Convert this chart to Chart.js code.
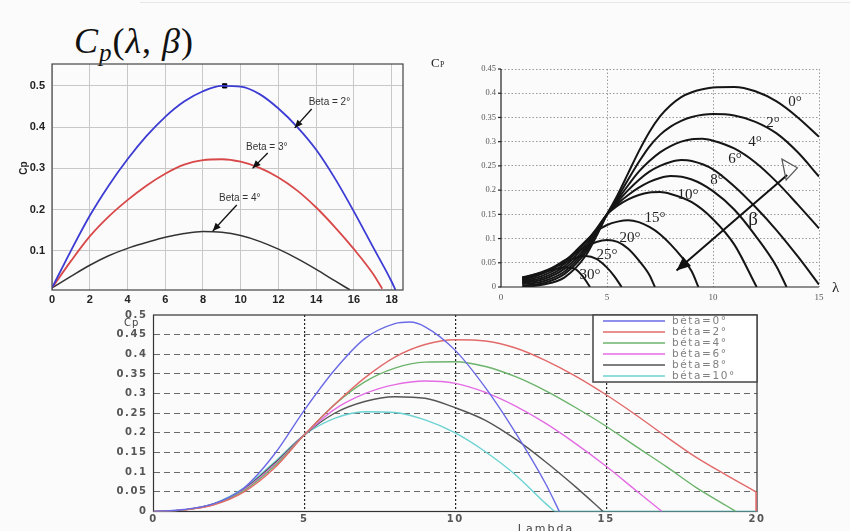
<!DOCTYPE html>
<html>
<head>
<meta charset="utf-8">
<script src="https://cdn.jsdelivr.net/npm/chart.js@4.4.1/dist/chart.umd.min.js"></script>
<style>
  body { margin:0; width:850px; height:531px; overflow:hidden; background:#fbfbfb; position:relative; }
  canvas { position:absolute; }
  #title { position:absolute; left:74px; top:20px; font:36px "Liberation Serif", serif; color:#111; white-space:nowrap; letter-spacing:1px; }
  #title sub { font-size:25px; vertical-align:-8px; }
  #topline { position:absolute; left:140px; top:2px; width:710px; height:1px; background:#e6e6e6; }
</style>
</head>
<body>
<div id="topline"></div>
<div id="title"><i>C</i><sub><i>p</i></sub>(<i>λ</i>, <i>β</i>)</div>
<canvas id="c1" width="420" height="310" style="left:0;top:0"></canvas>
<canvas id="c2" width="430" height="270" style="left:420px;top:40px"></canvas>
<canvas id="c3" width="850" height="231" style="left:0;top:300px"></canvas>
<script>
// ---- top left: Cp(lambda) for Beta = 2, 3, 4 deg
const tlTicksX = [0, 2, 4, 6, 8, 10, 12, 14, 16, 18];
const tlTicksY = [0.1, 0.2, 0.3, 0.4, 0.5];
const tlLam2 = [0, 1, 2, 3, 4, 5, 6, 7, 8, 9, 10, 11, 12, 13, 14, 15, 16, 17, 18, 18.2];
const tlCp2  = [0.01, 0.1, 0.185, 0.258, 0.322, 0.378, 0.425, 0.462, 0.487, 0.5, 0.498, 0.48, 0.445, 0.4, 0.345, 0.275, 0.195, 0.11, 0.025, 0.005];
const tlLam3 = [0, 1, 2, 3, 4, 5, 6, 7, 8, 9, 10, 11, 12, 13, 14, 15, 16, 17, 17.5];
const tlCp3  = [0.01, 0.075, 0.135, 0.183, 0.223, 0.258, 0.287, 0.309, 0.32, 0.322, 0.316, 0.301, 0.278, 0.246, 0.205, 0.157, 0.104, 0.045, 0.008];
const tlLam4 = [0, 1, 2, 3, 4, 5, 6, 7, 8, 9, 10, 11, 12, 13, 14, 15, 15.8];
const tlCp4  = [0.01, 0.038, 0.065, 0.088, 0.106, 0.12, 0.133, 0.142, 0.147, 0.145, 0.137, 0.123, 0.104, 0.081, 0.055, 0.027, 0.005];
const tlMarkLam = [9.15];
const tlMarkCp = [0.5];
const tlNotes = ['Beta = 2°', 'Beta = 3°', 'Beta = 4°'];

// ---- top right: Cp(lambda) for several pitch angles
const trTicksX = [0, 5, 10, 15];
const trTicksY = [0, 0.05, 0.1, 0.15, 0.2, 0.25, 0.3, 0.35, 0.4, 0.45];
const trNames = ['0°', '2°', '4°', '6°', '8°', '10°', '15°', '20°', '25°', '30°'];
const trLam0 = [1, 2, 3, 4, 4.5, 5, 5.5, 6, 6.5, 7, 7.5, 8, 8.5, 9, 9.5, 10, 11, 12, 13, 14, 15];
const trCp0  = [0, 0.005, 0.02, 0.065, 0.105, 0.15, 0.19, 0.235, 0.28, 0.32, 0.352, 0.375, 0.392, 0.402, 0.408, 0.412, 0.413, 0.404, 0.383, 0.35, 0.31];
const trLam2 = [1, 2, 3, 4, 4.5, 5, 5.5, 6, 6.5, 7, 7.5, 8, 8.5, 9, 10, 11, 12, 13, 14, 15];
const trCp2  = [0.003, 0.008, 0.027, 0.072, 0.108, 0.15, 0.185, 0.222, 0.258, 0.29, 0.314, 0.331, 0.343, 0.351, 0.357, 0.354, 0.341, 0.317, 0.278, 0.228];
const trLam4 = [1, 2, 3, 4, 4.5, 5, 5.5, 6, 6.5, 7, 7.5, 8, 8.5, 9, 9.5, 10, 11, 12, 13, 14, 15];
const trCp4  = [0.006, 0.012, 0.032, 0.077, 0.11, 0.15, 0.18, 0.21, 0.238, 0.26, 0.278, 0.291, 0.3, 0.305, 0.306, 0.302, 0.286, 0.257, 0.217, 0.17, 0.121];
const trLam6 = [1, 2, 3, 4, 4.5, 5, 5.5, 6, 6.5, 7, 7.5, 8, 8.5, 9, 10, 11, 12, 13, 14, 15];
const trCp6  = [0.008, 0.016, 0.038, 0.082, 0.113, 0.15, 0.176, 0.2, 0.221, 0.238, 0.25, 0.258, 0.262, 0.26, 0.243, 0.208, 0.165, 0.117, 0.063, 0.005];
const trLam8 = [1, 2, 3, 4, 4.5, 5, 5.5, 6, 6.5, 7, 7.5, 8, 9, 10, 11, 12, 13, 13.47];
const trCp8  = [0.01, 0.02, 0.043, 0.088, 0.117, 0.15, 0.172, 0.19, 0.205, 0.217, 0.225, 0.229, 0.222, 0.198, 0.16, 0.106, 0.042, 0];
const trLam10 = [1, 2, 3, 4, 4.5, 5, 5.5, 6, 6.5, 7, 7.5, 8, 9, 10, 11, 12.06];
const trCp10  = [0.012, 0.024, 0.048, 0.093, 0.12, 0.15, 0.168, 0.181, 0.19, 0.195, 0.196, 0.192, 0.175, 0.14, 0.088, 0];
const trLam15 = [1, 2, 3, 4, 4.5, 5, 5.5, 6, 6.5, 7, 7.5, 8, 8.5, 9, 9.31];
const trCp15  = [0.014, 0.028, 0.053, 0.095, 0.115, 0.128, 0.135, 0.138, 0.134, 0.124, 0.109, 0.088, 0.063, 0.032, 0];
const trLam20 = [1, 2, 3, 4, 4.5, 5, 5.5, 6, 6.5, 7, 7.26];
const trCp20  = [0.016, 0.03, 0.055, 0.083, 0.093, 0.097, 0.093, 0.079, 0.055, 0.025, 0];
const trLam25 = [1, 2, 3, 3.5, 4, 4.5, 5, 5.35, 5.69];
const trCp25  = [0.018, 0.032, 0.05, 0.06, 0.064, 0.058, 0.04, 0.022, 0];
const trLam30 = [1, 2, 2.5, 3, 3.4, 3.8, 4.2];
const trCp30  = [0.02, 0.03, 0.036, 0.04, 0.039, 0.025, 0];

// ---- bottom: Cp(Lambda) for beta = 0..10 deg
const btTicksX = [0, 5, 10, 15, 20];
const btTicksY = [0, 0.05, 0.1, 0.15, 0.2, 0.25, 0.3, 0.35, 0.4, 0.45, 0.5];
const btNames = ['béta=0°', 'béta=2°', 'béta=4°', 'béta=6°', 'béta=8°', 'béta=10°'];
const btLam0 = [0, 1, 2, 3, 4, 5, 6, 7, 8, 8.5, 9, 10, 11, 12, 13, 13.45];
const btCp0  = [0, 0.005, 0.02, 0.06, 0.145, 0.258, 0.36, 0.44, 0.478, 0.482, 0.47, 0.41, 0.315, 0.2, 0.07, 0];
const btLam2 = [0, 1, 2, 3, 4, 5, 6, 7, 8, 9, 10, 11, 12, 13, 14, 15, 16, 17, 18, 19, 19.97];
const btCp2  = [0, 0.004, 0.017, 0.05, 0.11, 0.195, 0.272, 0.34, 0.393, 0.425, 0.437, 0.434, 0.416, 0.384, 0.344, 0.297, 0.245, 0.19, 0.137, 0.092, 0.05];
const btDropLam = [19.97, 19.97];
const btDropCp = [0.05, 0];
const btLam4 = [0, 1, 2, 3, 4, 5, 6, 7, 8, 9, 10, 11, 12, 13, 14, 15, 16, 17, 18, 19, 19.3];
const btCp4  = [0, 0.004, 0.018, 0.053, 0.115, 0.195, 0.272, 0.33, 0.365, 0.38, 0.381, 0.369, 0.343, 0.307, 0.264, 0.217, 0.165, 0.114, 0.06, 0.014, 0];
const btLam6 = [0, 1, 2, 3, 4, 5, 6, 7, 8, 9, 10, 11, 12, 13, 14, 15, 16, 16.85];
const btCp6  = [0, 0.004, 0.018, 0.055, 0.118, 0.195, 0.26, 0.3, 0.323, 0.332, 0.326, 0.303, 0.268, 0.224, 0.172, 0.115, 0.053, 0];
const btLam8 = [0, 1, 2, 3, 4, 5, 6, 7, 8, 9, 10, 11, 12, 13, 14, 14.9];
const btCp8  = [0, 0.004, 0.019, 0.057, 0.122, 0.195, 0.25, 0.28, 0.292, 0.288, 0.264, 0.232, 0.184, 0.126, 0.062, 0];
const btLam10 = [0, 1, 2, 3, 4, 5, 6, 7, 8, 9, 10, 11, 12, 13, 13.3];
const btCp10  = [0, 0.004, 0.02, 0.06, 0.125, 0.195, 0.237, 0.254, 0.252, 0.233, 0.2, 0.152, 0.093, 0.02, 0];
const btTailLam = [13.3, 20];
const btTailCp = [0, 0];

const pts = (xs, ys) => xs.map((x, i) => ({ x: x, y: ys[i] }));
const fixTicks = arr => s => { s.ticks = arr.map(v => ({ value: v })); };

function arrowHead(ctx, x1, y1, x2, y2, len, wid) {
  const a = Math.atan2(y2 - y1, x2 - x1);
  ctx.beginPath();
  ctx.moveTo(x2, y2);
  ctx.lineTo(x2 - len * Math.cos(a) + wid * Math.sin(a), y2 - len * Math.sin(a) - wid * Math.cos(a));
  ctx.lineTo(x2 - len * Math.cos(a) - wid * Math.sin(a), y2 - len * Math.sin(a) + wid * Math.cos(a));
  ctx.closePath();
  ctx.fill();
}

// ---------- chart 1
const tlDeco = {
  id: 'tlDeco',
  afterDraw(chart) {
    const { ctx, chartArea: a, scales: { x, y } } = chart;
    ctx.save();
    ctx.strokeStyle = '#444';
    ctx.lineWidth = 1.2;
    ctx.strokeRect(a.left, a.top, a.right - a.left, a.bottom - a.top);
    ctx.fillStyle = '#222';
    ctx.font = 'bold 10px "Liberation Sans", Arial';
    ctx.translate(24, 168);
    ctx.rotate(-Math.PI / 2);
    ctx.textAlign = 'center';
    ctx.textBaseline = 'middle';
    ctx.fillText('Cp', 0, 0);
    ctx.restore();

    const notes = [
      { t: [14.7, 0.46], a: [13.76, 0.444], b: [12.86, 0.398] },
      { t: [11.38, 0.352], a: [11.43, 0.337], b: [10.63, 0.3] },
      { t: [9.95, 0.228], a: [9.79, 0.211], b: [8.52, 0.148] }
    ];
    ctx.save();
    ctx.font = '10px "Liberation Sans", Arial';
    ctx.strokeStyle = '#111';
    ctx.lineWidth = 1.3;
    ctx.textAlign = 'center';
    ctx.textBaseline = 'middle';
    notes.forEach((n, i) => {
      ctx.fillStyle = '#333';
      ctx.fillText(tlNotes[i], x.getPixelForValue(n.t[0]), y.getPixelForValue(n.t[1]));
      const x1 = x.getPixelForValue(n.a[0]), y1 = y.getPixelForValue(n.a[1]);
      const x2 = x.getPixelForValue(n.b[0]), y2 = y.getPixelForValue(n.b[1]);
      ctx.beginPath(); ctx.moveTo(x1, y1); ctx.lineTo(x2, y2); ctx.stroke();
      ctx.fillStyle = '#111';
      arrowHead(ctx, x1, y1, x2, y2, 8, 3.5);
    });
    ctx.restore();
  }
};

new Chart(document.getElementById('c1'), {
  type: 'line',
  data: {
    datasets: [
      { data: pts(tlLam2, tlCp2), borderColor: '#3c3cd4', borderWidth: 1.8 },
      { data: pts(tlLam3, tlCp3), borderColor: '#d84848', borderWidth: 1.8 },
      { data: pts(tlLam4, tlCp4), borderColor: '#333333', borderWidth: 1.5 },
      { data: pts(tlMarkLam, tlMarkCp), showLine: false, pointStyle: 'rect', pointRadius: 3,
        pointBackgroundColor: '#000', pointBorderColor: '#000' }
    ]
  },
  options: {
    responsive: false, animation: false, events: [],
    layout: { padding: { top: 64, right: 17, left: 0, bottom: 0 } },
    elements: { point: { radius: 0 }, line: { cubicInterpolationMode: 'monotone', fill: false } },
    scales: {
      x: {
        type: 'linear', min: 0, max: 18.6,
        afterFit: s => { s.height = 20; },
        afterBuildTicks: fixTicks(tlTicksX),
        ticks: { padding: 3, color: '#222', font: { family: '"Liberation Sans", Arial', size: 11, weight: 'bold' }, callback: v => String(v) },
        grid: { color: '#c8c8c8', drawTicks: false },
        border: { display: false }
      },
      y: {
        type: 'linear', min: 0.005, max: 0.553,
        afterFit: s => { s.width = 52; },
        afterBuildTicks: fixTicks(tlTicksY),
        ticks: { padding: 7, color: '#222', font: { family: '"Liberation Sans", Arial', size: 11, weight: 'bold' }, callback: v => String(v) },
        grid: { color: '#c8c8c8', drawTicks: false },
        border: { display: false }
      }
    },
    plugins: { legend: { display: false }, tooltip: { enabled: false } }
  },
  plugins: [tlDeco]
});

// ---------- chart 2
const trDeco = {
  id: 'trDeco',
  afterDraw(chart) {
    const { ctx, chartArea: a, scales: { x, y } } = chart;
    ctx.save();
    ctx.strokeStyle = '#222';
    ctx.lineWidth = 1.2;
    ctx.beginPath();
    ctx.moveTo(a.left, a.top); ctx.lineTo(a.left, a.bottom); ctx.lineTo(a.right, a.bottom);
    ctx.stroke();
    trTicksY.forEach(v => {
      const py = y.getPixelForValue(v);
      ctx.beginPath(); ctx.moveTo(a.left - 3, py); ctx.lineTo(a.left, py); ctx.stroke();
    });
    ctx.fillStyle = '#222';
    ctx.font = '13px "Liberation Serif", serif';
    ctx.textBaseline = 'alphabetic';
    ctx.fillText('C', 11, 27);
    ctx.font = '8px "Liberation Serif", serif';
    ctx.fillText('P', 20, 27);
    ctx.font = '15px "Liberation Serif", serif';
    ctx.fillText('λ', 412, 252);

    const lab = [[13.87, 0.382], [12.83, 0.339], [11.98, 0.3], [11.04, 0.264], [10.19, 0.221],
                 [8.82, 0.19], [7.26, 0.143], [6.08, 0.101], [5.0, 0.066], [4.2, 0.025]];
    ctx.font = '15px "Liberation Serif", serif';
    ctx.textAlign = 'center';
    ctx.textBaseline = 'middle';
    lab.forEach((p, i) => {
      ctx.fillText(trNames[i], x.getPixelForValue(p[0]), y.getPixelForValue(p[1]));
    });
    ctx.font = '19px "Liberation Serif", serif';
    ctx.fillText('β', x.getPixelForValue(11.89), y.getPixelForValue(0.138));

    const x1 = x.getPixelForValue(13.5), y1 = y.getPixelForValue(0.231);
    const x2 = x.getPixelForValue(8.28), y2 = y.getPixelForValue(0.034);
    ctx.strokeStyle = '#111';
    ctx.lineWidth = 2;
    ctx.beginPath(); ctx.moveTo(x1, y1); ctx.lineTo(x2, y2); ctx.stroke();
    ctx.fillStyle = '#111';
    arrowHead(ctx, x1, y1, x2, y2, 14, 6);
    ctx.lineWidth = 1.2;
    ctx.strokeStyle = '#555';
    ctx.beginPath();
    ctx.moveTo(x.getPixelForValue(13.25), y.getPixelForValue(0.264));
    ctx.lineTo(x.getPixelForValue(13.98), y.getPixelForValue(0.246));
    ctx.lineTo(x.getPixelForValue(13.45), y.getPixelForValue(0.221));
    ctx.closePath();
    ctx.stroke();
    ctx.restore();
  }
};

const trLam = [trLam0, trLam2, trLam4, trLam6, trLam8, trLam10, trLam15, trLam20, trLam25, trLam30];
const trCp = [trCp0, trCp2, trCp4, trCp6, trCp8, trCp10, trCp15, trCp20, trCp25, trCp30];

new Chart(document.getElementById('c2'), {
  type: 'line',
  data: {
    datasets: trNames.map((n, i) => ({ label: n, data: pts(trLam[i], trCp[i]), borderColor: '#151515', borderWidth: 2 }))
  },
  options: {
    responsive: false, animation: false, events: [],
    layout: { padding: { top: 29, right: 31, left: 0, bottom: 0 } },
    elements: { point: { radius: 0 }, line: { cubicInterpolationMode: 'monotone', fill: false } },
    scales: {
      x: {
        type: 'linear', min: 0, max: 15,
        afterFit: s => { s.height = 23; },
        afterBuildTicks: fixTicks(trTicksX),
        ticks: { padding: 5, color: '#555', font: { family: '"Liberation Serif", serif', size: 9 }, callback: v => String(v) },
        grid: { color: ctx => ctx.tick && ctx.tick.value === 0 ? 'rgba(0,0,0,0)' : '#9a9a9a', drawTicks: false },
        border: { display: false, dash: [1.5, 2] }
      },
      y: {
        type: 'linear', min: 0, max: 0.45,
        afterFit: s => { s.width = 81; },
        afterBuildTicks: fixTicks(trTicksY),
        ticks: { padding: 5, color: '#555', font: { family: '"Liberation Serif", serif', size: 8.5 }, callback: v => String(v) },
        grid: { color: ctx => ctx.tick && ctx.tick.value === 0 ? 'rgba(0,0,0,0)' : '#9a9a9a', drawTicks: false },
        border: { display: false, dash: [1.5, 2] }
      }
    },
    plugins: { legend: { display: false }, tooltip: { enabled: false } }
  },
  plugins: [trDeco]
});

// ---------- chart 3
const btColors = ['#6a6ae6', '#e26a6a', '#6cb46c', '#e46ce4', '#555555', '#6cd2d2'];
const btDeco = {
  id: 'btDeco',
  beforeDraw(chart) {
    chart.ctx.letterSpacing = '1.6px';
  },
  beforeDatasetsDraw(chart) {
    const { ctx, chartArea: a } = chart;
    ctx.save();
    ctx.strokeStyle = '#333';
    ctx.lineWidth = 1.2;
    ctx.strokeRect(a.left, a.top, a.right - a.left, a.bottom - a.top);
    ctx.restore();
  },
  afterDraw(chart) {
    const { ctx, chartArea: a } = chart;
    ctx.save();
    const lw = 164, lh = 67;
    const lx = a.right - lw, ly = a.top;
    ctx.fillStyle = '#ffffff';
    ctx.fillRect(lx, ly, lw, lh);
    ctx.strokeStyle = '#444';
    ctx.lineWidth = 1.5;
    ctx.strokeRect(lx, ly, lw, lh);
    ctx.font = '10.5px "DejaVu Sans", sans-serif';
    ctx.letterSpacing = '1.6px';
    ctx.textBaseline = 'middle';
    btNames.forEach((n, i) => {
      const yy = ly + 6 + i * 11;
      ctx.strokeStyle = btColors[i];
      ctx.lineWidth = 1.4;
      ctx.beginPath(); ctx.moveTo(lx + 10, yy); ctx.lineTo(lx + 72, yy); ctx.stroke();
      ctx.fillStyle = '#808080';
      ctx.fillText(n, lx + 79, yy + 0.5);
    });
    ctx.fillStyle = '#444';
    ctx.font = '10px "DejaVu Sans", sans-serif';
    ctx.letterSpacing = '1px';
    ctx.fillText('Cp', 124, 23);
    ctx.font = '11px "DejaVu Sans", sans-serif';
    ctx.letterSpacing = '2px';
    ctx.textAlign = 'center';
    ctx.textBaseline = 'top';
    ctx.fillText('Lambda', 546, 224);
    ctx.restore();
  }
};

const btLam = [btLam0, btLam2, btLam4, btLam6, btLam8, btLam10];
const btCp = [btCp0, btCp2, btCp4, btCp6, btCp8, btCp10];
const btSets = btNames.map((n, i) => ({ label: n, data: pts(btLam[i], btCp[i]), borderColor: btColors[i], borderWidth: 1.4 }));
btSets.push({ label: 'drop', data: pts(btDropLam, btDropCp), borderColor: btColors[1], borderWidth: 1.6, cubicInterpolationMode: 'default', tension: 0 });
btSets.push({ label: 'tail', data: pts(btTailLam, btTailCp), borderColor: btColors[5], borderWidth: 1.6 });

new Chart(document.getElementById('c3'), {
  type: 'line',
  data: { datasets: btSets },
  options: {
    responsive: false, animation: false, events: [],
    layout: { padding: { top: 15, right: 93, left: 0, bottom: 0 } },
    elements: { point: { radius: 0 }, line: { cubicInterpolationMode: 'monotone', fill: false } },
    scales: {
      x: {
        type: 'linear', min: 0, max: 20,
        afterFit: s => { s.height = 19.5; },
        afterBuildTicks: fixTicks(btTicksX),
        ticks: { padding: 2, color: '#555', font: { family: '"DejaVu Sans", sans-serif', size: 10, weight: 'bold' }, callback: v => String(v) },
        grid: { color: ctx => ctx.tick && (ctx.tick.value === 0 || ctx.tick.value === 20) ? 'rgba(0,0,0,0)' : '#222', drawTicks: false, lineWidth: 1.2 },
        border: { display: false, dash: [2, 2] }
      },
      y: {
        type: 'linear', min: 0, max: 0.5,
        afterFit: s => { s.width = 153.5; },
        afterBuildTicks: fixTicks(btTicksY),
        ticks: { padding: 6, color: '#555', font: { family: '"DejaVu Sans", sans-serif', size: 10, weight: 'bold' }, callback: v => String(v) },
        grid: { color: ctx => ctx.tick && (ctx.tick.value === 0 || ctx.tick.value === 0.5) ? 'rgba(0,0,0,0)' : '#6a6a6a', drawTicks: false, lineWidth: 1.1 },
        border: { display: false, dash: [6, 4] }
      }
    },
    plugins: { legend: { display: false }, tooltip: { enabled: false } }
  },
  plugins: [btDeco]
});
</script>
</body>
</html>
